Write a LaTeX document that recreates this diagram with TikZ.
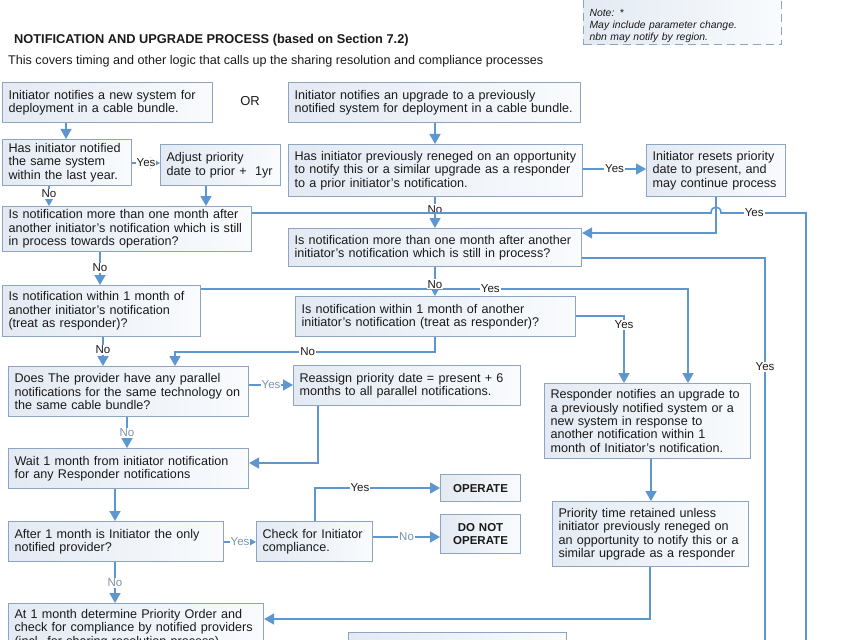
\documentclass[tikz,border=0pt]{standalone}
\usepackage{fontspec}
\setmainfont{Liberation Sans}
\usetikzlibrary{arrows.meta,calc}
\definecolor{linec}{HTML}{5E97CF}
\definecolor{bordc}{HTML}{8DA5C1}
\definecolor{boxa}{HTML}{E3EAF3}
\definecolor{boxb}{HTML}{F9FBFD}
\definecolor{labc}{HTML}{7D92AB}
\definecolor{txtc}{HTML}{1A1A1A}
\begin{document}
\begin{tikzpicture}[x=1pt,y=-1pt,
  box/.style={draw=bordc, line width=1.1pt, left color=boxa, right color=boxb,
    anchor=north west, align=left, inner xsep=6pt, inner ysep=2pt,
    font=\fontsize{12.6}{13.4}\selectfont, text=txtc},
  boldbox/.style={box, align=center, font=\fontsize{11.5}{13.4}\selectfont\bfseries},
  notebox/.style={draw=bordc, line width=1.1pt, dash pattern=on 8pt off 5pt,
    left color=boxa, right color=boxb, anchor=north west, align=left,
    inner xsep=6pt, inner ysep=2pt, font=\fontsize{10.4}{12}\selectfont\itshape, text=txtc},
  arr/.style={draw=linec, line width=1.6pt, -{Triangle[width=11pt,length=10pt]}},
  ln/.style={draw=linec, line width=1.6pt},
  lab/.style={fill=white, inner sep=1pt, font=\fontsize{11.5}{12}\selectfont, text=txtc},
  labb/.style={lab, text=labc}
]
\useasboundingbox (0,0) rectangle (850,639);
\clip (0,0) rectangle (850,639);

% titles
\node[anchor=west, inner sep=0pt, font=\fontsize{12.8}{14}\selectfont\bfseries, text=txtc] (title) at (14,40) {NOTIFICATION AND UPGRADE PROCESS (based on Section 7.2)};
\node[anchor=west, inner sep=0pt, font=\fontsize{12.6}{14}\selectfont, text=txtc] (subtitle) at (8,61) {This covers timing and other logic that calls up the sharing resolution and compliance processes};

% note
\node[notebox, text width=186pt, minimum height=43pt] (note) at (583,-1) {\rule{0pt}{15pt}Note: *\\May include parameter change.\\nbn may notify by region.};

% boxes
\node[box, text width=198pt, minimum height=40pt] (A1) at (2,82) {Initiator notifies a new system for\\deployment in a cable bundle.};
\node[font=\fontsize{13}{14}\selectfont, text=txtc] (or) at (250,101) {OR};
\node[box, text width=280pt, minimum height=40pt] (A2) at (288,82) {Initiator notifies an upgrade to a previously\\notified system for deployment in a cable bundle.};
\node[box, text width=117pt, minimum height=46pt] (B1) at (2,139) {Has initiator notified\\the same system\\within the last year.};
\node[box, text width=108pt, minimum height=41pt] (C1) at (160,144) {Adjust priority\\date to prior +\ \ 1yr};
\node[box, text width=282pt, minimum height=52pt] (B2) at (288,144) {Has initiator previously reneged on an opportunity\\to notify this or a similar upgrade as a responder\\to a prior initiator’s notification.};
\node[box, text width=127pt, minimum height=52pt] (R1) at (646,144) {Initiator resets priority\\date to present, and\\may continue process};
\node[box, text width=237pt, minimum height=45pt] (D1) at (2,206) {Is notification more than one month after\\another initiator’s notification which is still\\in process towards operation?};
\node[box, text width=281pt, minimum height=38pt] (D2) at (288,228) {Is notification more than one month after another\\initiator’s notification which is still in process?};
\node[box, text width=186pt, minimum height=51pt] (E1) at (2,285) {Is notification within 1 month of\\another initiator’s notification\\(treat as responder)?};
\node[box, text width=268pt, minimum height=40pt] (E2) at (295,296) {Is notification within 1 month of another\\initiator’s notification (treat as responder)?};
\node[box, text width=228pt, minimum height=50pt] (F1) at (8,366) {Does The provider have any parallel\\notifications for the same technology on\\the same cable bundle?};
\node[box, text width=215pt, minimum height=40pt] (G1) at (293,365) {Reassign priority date = present + 6\\months to all parallel notifications.};
\node[box, text width=194pt, minimum height=75pt] (R2) at (544,383) {Responder notifies an upgrade to\\a previously notified system or a\\new system in response to\\another notification within 1\\month of Initiator’s notification.};
\node[box, text width=228pt, minimum height=40pt] (H1) at (8,448) {Wait 1 month from initiator notification\\for any Responder notifications};
\node[box, text width=203pt, minimum height=40pt] (I1) at (8,521) {After 1 month is Initiator the only\\notified provider?};
\node[box, text width=104pt, minimum height=40pt] (J1) at (256,521) {Check for Initiator\\compliance.};
\node[boldbox, text width=68pt, minimum height=27pt] (OP) at (440,474) {OPERATE};
\node[boldbox, text width=68pt, minimum height=39pt] (DNO) at (440,514) {DO NOT\\OPERATE};
\node[box, text width=184pt, minimum height=65pt] (R3) at (552,501) {Priority time retained unless\\initiator previously reneged on\\an opportunity to notify this or a\\similar upgrade as a responder};
\node[box, text width=243pt, minimum height=50pt] (K1) at (8,603) {At 1 month determine Priority Order and\\check for compliance by notified providers\\(incl. for sharing resolution process)};
\node[box, text width=206pt, minimum height=40pt] (L1) at (348,632) {};

\coordinate (endA) at (806,660);
\coordinate (endB) at (765,660);

% connectors
\draw[arr] (A1.south -| 66,0) -- (B1.north -| 66,0);
\draw[arr] (B1.east |- 0,163) -- node[lab] (lB1y) {Yes} (C1.west |- 0,163);
\draw[arr] (C1.south -| 206,0) -- (D1.north -| 206,0);
\draw[arr] (B1.south -| 49,0) -- node[lab, pos=0.4] (lB1n) {No} (D1.north -| 49,0);

\draw[arr] (A2.south -| 435,0) -- (B2.north -| 435,0);
\draw[arr] (B2.east |- 0,169) -- node[lab] (lB2y) {Yes} (R1.west |- 0,169);
\draw[arr] (R1.south -| 716,0) -- (716,233) -- (D2.east |- 0,233);
\draw[arr] (B2.south -| 435,0) -- node[lab, pos=0.4] (lB2n) {No} (D2.north -| 435,0);

\draw[ln] (D1.east |- 0,213) -- (711,213) .. controls (711,205) and (721,205) .. (721,213)
  -- node[lab, pos=0.39] (lD1y) {Yes} (806,213) -- (endA);
\draw[ln] (D2.east |- 0,258) -- (765,258) -- node[lab, pos=0.27] (lD2y) {Yes} (endB);

\draw[arr] (D1.south -| 100,0) -- node[lab, pos=0.47] (lD1n) {No} (E1.north -| 100,0);
\draw[arr] (E1.east |- 0,289) -- node[lab, pos=0.594] (lE1y) {Yes} (688,289) -- (R2.north -| 688,0);
\draw[arr] (D2.south -| 435,0) -- node[lab, pos=0.6] (lD2n) {No} (E2.north -| 435,0);
\draw[arr] (E2.east |- 0,316) -- (624,316) -- node[lab, pos=0.13] (lE2y) {Yes} (R2.north -| 624,0);
\draw[arr] (E2.south -| 435,0) -- (435,352) -- node[lab, pos=0.49] (lE2n) {No} (175,352) -- (F1.north -| 175,0);
\draw[arr] (E1.south -| 103,0) -- node[lab, pos=0.43] (lE1n) {No} (F1.north -| 103,0);

\draw[arr] (F1.east |- 0,385) -- node[labb] (lF1y) {Yes} (G1.west |- 0,385);
\draw[arr] (G1.south -| 318,0) -- (318,463) -- (H1.east |- 0,463);
\draw[arr] (F1.south -| 127,0) -- node[labb, pos=0.5] (lF1n) {No} (H1.north -| 127,0);
\draw[arr] (H1.south -| 115,0) -- (I1.north -| 115,0);
\draw[arr] (I1.east |- 0,542) -- node[labb] (lI1y) {Yes} (J1.west |- 0,542);
\draw[arr] (J1.north -| 315,0) -- (315,488) -- node[lab, pos=0.36] (lJ1y) {Yes} (OP.west |- 0,488);
\draw[arr] (J1.east |- 0,537) -- node[labb] (lJ1n) {No} (DNO.west |- 0,537);
\draw[arr] (I1.south -| 115,0) -- node[labb, pos=0.5] (lI1n) {No} (K1.north -| 115,0);

\draw[arr] (R2.south -| 651,0) -- (R3.north -| 651,0);
\draw[arr] (R3.south -| 650,0) -- (650,619) -- (K1.east |- 0,619);
\end{tikzpicture}
\end{document}
